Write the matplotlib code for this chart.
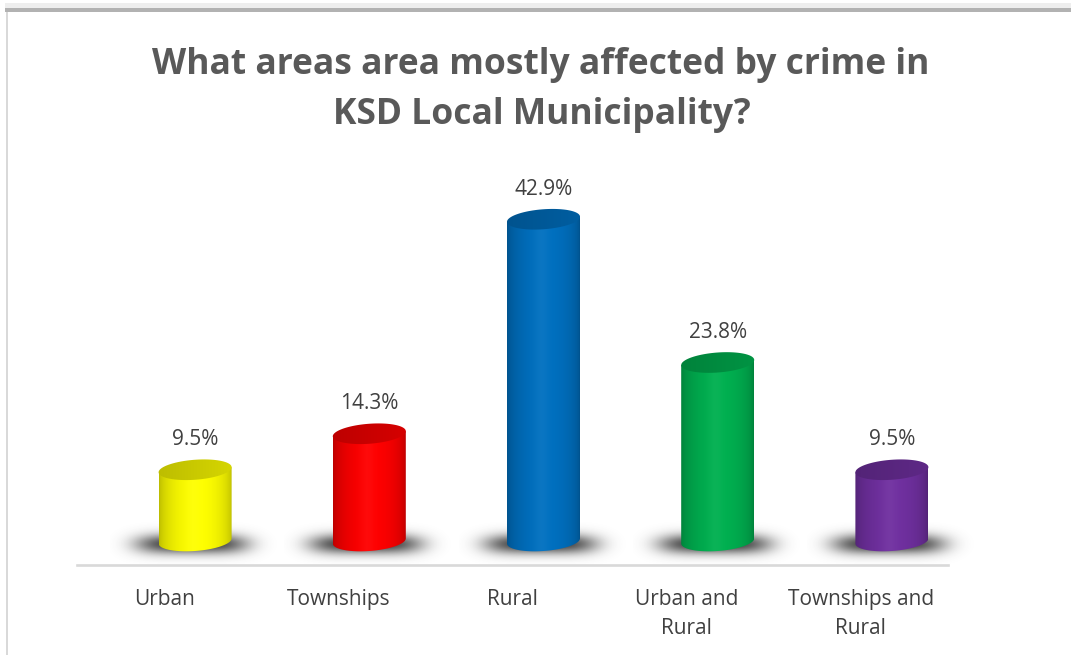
import numpy as np
import matplotlib
matplotlib.use("Agg")
import matplotlib.pyplot as plt
from matplotlib.patches import PathPatch, Rectangle
from matplotlib.path import Path
from matplotlib.transforms import Affine2D, ScaledTranslation
import matplotlib.colors as mcolors

# ---- data -------------------------------------------------------------
categories = ["Urban", "Townships", "Rural", "Urban and\nRural", "Townships and\nRural"]
shares = [9.5, 14.3, 42.9, 23.8, 9.5]
value_labels = ["9.5%", "14.3%", "42.9%", "23.8%", "9.5%"]
bar_colors = ["#FFFF00", "#FF0000", "#0070C0", "#00B050", "#7030A0"]
title_lines = ["What areas area mostly affected by crime in", "KSD Local Municipality?"]

# ---- figure -----------------------------------------------------------
W, H, DPI = 1071, 655, 100
fig = plt.figure(figsize=(W / DPI, H / DPI), dpi=DPI)
fig.patch.set_facecolor("white")

ax = fig.add_axes([77 / W, 90 / H, 871 / W, 375 / H])
ax.set_xlim(0, len(categories))
ax.set_ylim(0, 50)
ax.set_autoscale_on(False)
ax.patch.set_alpha(0)

for side in ("top", "right", "left"):
    ax.spines[side].set_visible(False)
ax.spines["bottom"].set_color("#d9d9d9")
ax.spines["bottom"].set_linewidth(1.9)
ax.set_yticks([])
ax.set_xticks(np.arange(len(categories)) + 0.5)
ax.set_xticklabels(categories, fontfamily="Open Sans", fontsize=15,
                   color="#404040", linespacing=1.55)
ax.tick_params(axis="x", length=0, pad=17)

# cylinder geometry in pixels (3-D depth shift, radius, ellipse half-height, tilt)
DX, DY = 31, 24
RAD, EH, TILT = 36.5, 10, 0.07


def shade(rgb, u):
    """Horizontal lighting profile across the cylinder body."""
    s = 0.72 + 0.28 * np.sin(np.pi * np.clip(u, 0, 1) ** 1.1) ** 0.5
    hl = 0.04 * np.exp(-((u - 0.47) / 0.10) ** 2)
    col = rgb[None, :] * s[:, None]
    col = col * (1 - hl[:, None]) + hl[:, None]
    return np.clip(col, 0, 1)


t_lo = np.linspace(np.pi, 2 * np.pi, 80)
t_full = np.linspace(0, 2 * np.pi, 160)

for i, (v, c, lab) in enumerate(zip(shares, bar_colors, value_labels)):
    x = i + 0.5
    base_tr = Affine2D().translate(DX, DY) + ScaledTranslation(x, 0, ax.transData)
    h = ax.transData.transform((x, v))[1] - ax.transData.transform((x, 0))[1]
    rgb = np.array(mcolors.to_rgb(c))

    # soft floor shadow
    gx = np.linspace(-85, 85, 170)
    gy = np.linspace(-30, 24, 54)
    XX, YY = np.meshgrid(gx, gy)
    alpha = (0.95 * np.exp(-np.abs((XX + 3) / 56.0) ** 4.0)
             * np.exp(-np.abs((YY + 3) / 10.0) ** 2.0))
    sh = np.zeros((len(gy), len(gx), 4))
    sh[..., :3] = 0.22
    sh[..., 3] = alpha
    shimg = ax.imshow(sh, extent=(gx[0], gx[-1], gy[0], gy[-1]), origin="lower",
                      transform=base_tr, interpolation="bilinear", aspect="auto",
                      zorder=2)
    shimg.set_clip_on(False)

    # body outline: front half of the base ellipse, then straight up to the top
    bx = RAD * np.cos(t_lo)
    by = EH * np.sin(t_lo) + TILT * bx
    verts = list(zip(bx, by))
    verts += [(RAD, h + TILT * RAD), (-RAD, h - TILT * RAD), (bx[0], by[0])]
    body = PathPatch(Path(verts, closed=True), transform=base_tr,
                     facecolor="none", edgecolor="none")
    u = np.linspace(0, 1, 200)
    grad = shade(rgb, u)[None, :, :]
    im = ax.imshow(grad, extent=(-RAD, RAD, -EH - 6, h + EH + 6), origin="lower",
                   transform=base_tr, interpolation="bilinear", aspect="auto", zorder=3)
    im.set_clip_path(body)

    # top cap
    tx = RAD * np.cos(t_full)
    ty = h + EH * np.sin(t_full) + TILT * tx
    cap = PathPatch(Path(list(zip(tx, ty)), closed=True), transform=base_tr,
                    facecolor="none", edgecolor="none")
    uc = np.linspace(0, 1, 100)
    sc = (0.74 + 0.10 * uc)[:, None]
    cap_col = np.clip(rgb[None, :] * sc, 0, 1)[None, :, :]
    imc = ax.imshow(cap_col, extent=(-RAD - 2, RAD + 2, h - EH - 6, h + EH + 6),
                    origin="lower", transform=base_tr, interpolation="bilinear",
                    aspect="auto", zorder=4)
    imc.set_clip_path(cap)

    # value label above the cap
    ax.annotate(lab, (x, v), xytext=(DX * 0.72, (DY + 30) * 0.72),
                textcoords="offset points", ha="center", va="center",
                fontfamily="Open Sans", fontsize=15, color="#404040", zorder=5)

# ---- title ------------------------------------------------------------
fig.text(541 / W, 1 - 74 / H, title_lines[0], ha="center", va="baseline",
         fontfamily="Open Sans", fontweight="bold", fontsize=25.5, color="#595959")
fig.text(542 / W, 1 - 124 / H, title_lines[1], ha="center", va="baseline",
         fontfamily="Open Sans", fontweight="bold", fontsize=25.5, color="#595959")

# ---- chart frame ------------------------------------------------------
fig.add_artist(Rectangle((5 / W, 1 - 8 / H), 1, 5 / H, transform=fig.transFigure,
                         facecolor="#eeeeee", edgecolor="none"))
fig.add_artist(Rectangle((5 / W, 1 - 12 / H), 1, 4 / H, transform=fig.transFigure,
                         facecolor="#b2b2b2", edgecolor="none"))
fig.add_artist(Rectangle((6 / W, 0), 2 / W, 1 - 12 / H, transform=fig.transFigure,
                         facecolor="#d9d9d9", edgecolor="none"))

fig.savefig("out.png", dpi=DPI, facecolor="white")
